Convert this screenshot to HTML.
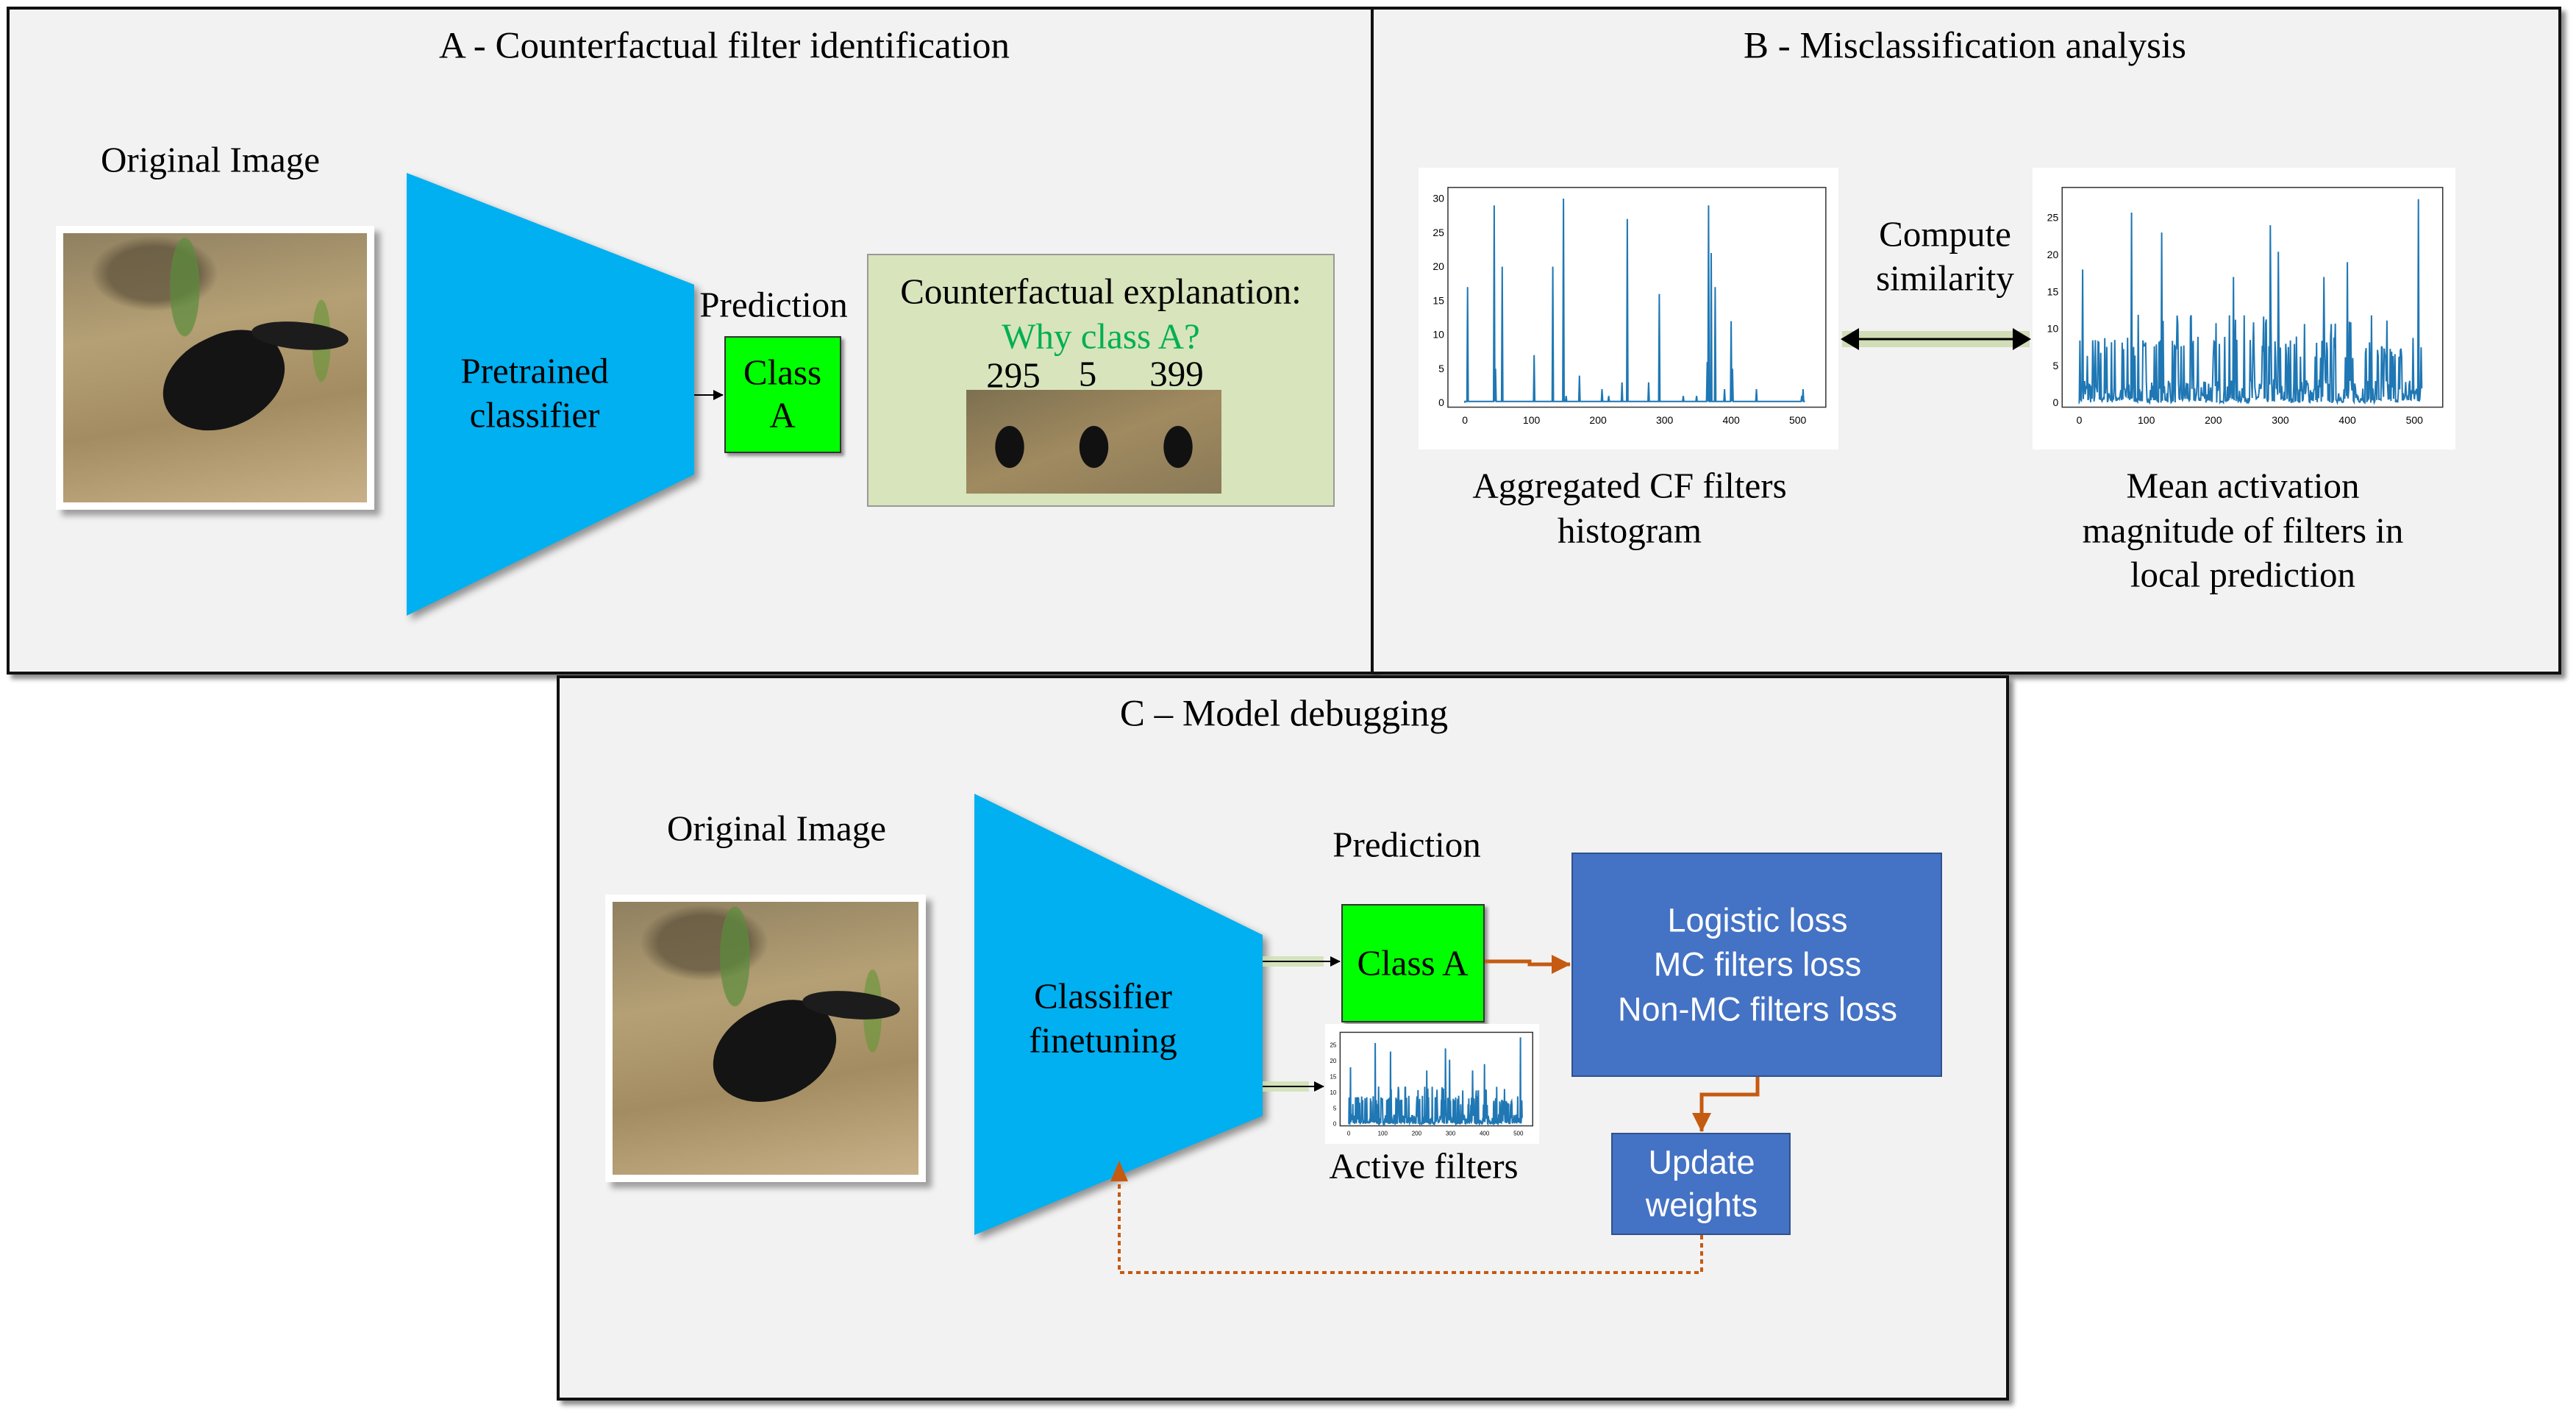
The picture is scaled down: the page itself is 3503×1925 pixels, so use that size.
<!DOCTYPE html>
<html><head><meta charset="utf-8">
<style>
body{margin:0;width:3503px;height:1925px;background:#fff;position:relative;overflow:hidden;font-family:"Liberation Serif",serif;}
.panel{position:absolute;background:#f2f2f2;border:4px solid #111;box-shadow:6px 6px 6px rgba(0,0,0,.45);box-sizing:border-box;}
.t{position:absolute;white-space:nowrap;transform:translate(-50%,-50%);font-size:49px;color:#000;line-height:1;}
.bird{position:absolute;background:#fff;box-shadow:8px 8px 8px rgba(0,0,0,.35);padding:10px;box-sizing:border-box;}
.bird div{width:100%;height:100%;position:relative;overflow:hidden;background:
radial-gradient(ellipse 8% 30% at 40% 20%,rgba(90,140,60,.7) 60%,transparent 62%),
radial-gradient(ellipse 5% 25% at 85% 40%,rgba(110,150,60,.7) 60%,transparent 62%),
radial-gradient(ellipse 30% 20% at 30% 15%,rgba(80,70,50,.6) 50%,transparent 70%),
linear-gradient(170deg,#8f8060,#b5a075 35%,#a48c62 65%,#c8b088);}
.bird div:before{content:"";position:absolute;left:32%;top:38%;width:42%;height:34%;background:#141414;border-radius:50% 45% 50% 50%;transform:rotate(-25deg);}
.bird div:after{content:"";position:absolute;left:62%;top:33%;width:32%;height:10%;background:#1c1c1c;border-radius:50%;transform:rotate(5deg);}
svg{position:absolute;left:0;top:0}
</style></head><body>
<div class="panel" style="left:9px;top:9px;width:1859px;height:908px"></div>
<div class="panel" style="left:1864px;top:9px;width:1619px;height:908px"></div>
<div class="panel" style="left:757px;top:918px;width:1975px;height:986px"></div>

<div class="bird" style="left:76px;top:307px;width:433px;height:386px"><div></div></div>
<div style="position:absolute;left:985px;top:457px;width:159px;height:159px;background:#00ff00;border:2px solid #333;box-sizing:border-box;box-shadow:4px 4px 4px rgba(0,0,0,.4)"></div>
<div style="position:absolute;left:1179px;top:345px;width:636px;height:344px;background:#d8e4bc;border:2px solid #999;box-sizing:border-box"></div>
<div style="position:absolute;left:1314px;top:530px;width:347px;height:141px;background:radial-gradient(ellipse 7% 25% at 17% 55%,#111 80%,transparent 82%),radial-gradient(ellipse 7% 25% at 50% 55%,#111 80%,transparent 82%),radial-gradient(ellipse 7% 25% at 83% 55%,#111 80%,transparent 82%),linear-gradient(160deg,#7d7050,#a08a60 50%,#8a7a58)"></div>
<div class="bird" style="left:823px;top:1216px;width:436px;height:391px"><div></div></div>
<div style="position:absolute;left:1824px;top:1229px;width:195px;height:161px;background:#00ff00;border:2px solid #333;box-sizing:border-box;box-shadow:4px 4px 4px rgba(0,0,0,.4)"></div>
<div style="position:absolute;left:2137px;top:1159px;width:504px;height:305px;background:#4472c4;border:2px solid #2f528f;box-sizing:border-box"></div>
<div style="position:absolute;left:2191px;top:1540px;width:244px;height:139px;background:#4472c4;border:2px solid #2f528f;box-sizing:border-box"></div>

<svg width="3503" height="1925">
<defs>
<marker id="ab" markerWidth="14" markerHeight="14" refX="13" refY="7" orient="auto" markerUnits="userSpaceOnUse" viewBox="0 0 14 14"><path d="M0,0L14,7L0,14z" fill="#000"/></marker>
<marker id="ao" markerWidth="26" markerHeight="26" refX="25" refY="13" orient="auto" markerUnits="userSpaceOnUse" viewBox="0 0 26 26"><path d="M0,0L26,13L0,26z" fill="#c55a11"/></marker>
</defs>
<polygon points="553,235 944,387 944,645 553,837" fill="#00b0f0" style="filter:drop-shadow(6px 6px 5px rgba(0,0,0,.4))"/>
<line x1="944" y1="537" x2="983" y2="537" stroke="#000" stroke-width="2" marker-end="url(#ab)"/>
<line x1="2505" y1="461" x2="2760" y2="461" stroke="#c8d9a8" stroke-width="22" opacity=".8"/>
<line x1="2525" y1="461" x2="2740" y2="461" stroke="#000" stroke-width="3"/>
<path d="M2503,461L2528,446L2528,476z M2762,461L2737,446L2737,476z" fill="#000"/>
<polygon points="1325,1079 1717,1271 1717,1517 1325,1679" fill="#00b0f0" style="filter:drop-shadow(6px 6px 5px rgba(0,0,0,.4))"/>
<line x1="1717" y1="1307" x2="1800" y2="1307" stroke="#cfe0b0" stroke-width="14" opacity=".8"/>
<line x1="1717" y1="1307" x2="1822" y2="1307" stroke="#000" stroke-width="2" marker-end="url(#ab)"/>
<line x1="1717" y1="1477" x2="1780" y2="1477" stroke="#cfe0b0" stroke-width="14" opacity=".8"/>
<line x1="1717" y1="1477" x2="1800" y2="1477" stroke="#000" stroke-width="2" marker-end="url(#ab)"/>
<polyline points="2019,1307 2080,1307 2080,1311 2135,1311" fill="none" stroke="#c55a11" stroke-width="5" marker-end="url(#ao)"/>
<polyline points="2390,1464 2390,1488 2314,1488 2314,1538" fill="none" stroke="#c55a11" stroke-width="5" marker-end="url(#ao)"/>
<polyline points="2314,1679 2314,1730 1522,1730 1522,1600" fill="none" stroke="#c55a11" stroke-width="4" stroke-dasharray="6,5"/>
<path d="M1522,1578L1510,1606L1534,1606z" fill="#c55a11"/>
<g id="charts"></g>
</svg>

<div class="t" style="left:985px;top:63px;font-size:51px">A - Counterfactual filter identification</div>
<div class="t" style="left:2672px;top:63px;font-size:51px">B - Misclassification analysis</div>
<div class="t" style="left:1746px;top:971px;font-size:51px">C – Model debugging</div>
<div class="t" style="left:286px;top:217px">Original Image</div>
<div class="t" style="left:727px;top:504px">Pretrained</div>
<div class="t" style="left:727px;top:564px">classifier</div>
<div class="t" style="left:1052px;top:414px">Prediction</div>
<div class="t" style="left:1064px;top:506px">Class</div>
<div class="t" style="left:1064px;top:564px">A</div>
<div class="t" style="left:1497px;top:396px">Counterfactual explanation:</div>
<div class="t" style="left:1497px;top:457px;color:#00b050">Why class A?</div>
<div class="t" style="left:1378px;top:510px">295</div>
<div class="t" style="left:1479px;top:508px">5</div>
<div class="t" style="left:1600px;top:508px">399</div>
<div class="t" style="left:2645px;top:318px">Compute</div>
<div class="t" style="left:2645px;top:378px">similarity</div>
<div class="t" style="left:2216px;top:660px">Aggregated CF filters</div>
<div class="t" style="left:2216px;top:721px">histogram</div>
<div class="t" style="left:3050px;top:660px">Mean activation</div>
<div class="t" style="left:3050px;top:721px">magnitude of filters in</div>
<div class="t" style="left:3050px;top:781px">local prediction</div>
<div class="t" style="left:1056px;top:1126px">Original Image</div>
<div class="t" style="left:1500px;top:1354px">Classifier</div>
<div class="t" style="left:1500px;top:1414px">finetuning</div>
<div class="t" style="left:1913px;top:1148px">Prediction</div>
<div class="t" style="left:1921px;top:1309px">Class A</div>
<div class="t" style="left:1936px;top:1585px">Active filters</div>
<div class="t" style="left:2390px;top:1251px;color:#fff;font-family:'Liberation Sans',sans-serif;font-size:45px">Logistic loss</div>
<div class="t" style="left:2390px;top:1311px;color:#fff;font-family:'Liberation Sans',sans-serif;font-size:45px">MC filters loss</div>
<div class="t" style="left:2390px;top:1372px;color:#fff;font-family:'Liberation Sans',sans-serif;font-size:45px">Non-MC filters loss</div>
<div class="t" style="left:2314px;top:1580px;color:#fff;font-family:'Liberation Sans',sans-serif;font-size:45px">Update</div>
<div class="t" style="left:2314px;top:1638px;color:#fff;font-family:'Liberation Sans',sans-serif;font-size:45px">weights</div>
<script>
(function(){
var g=document.getElementById('charts');var ns='http://www.w3.org/2000/svg';
function el(t,a){var e=document.createElementNS(ns,t);for(var k in a)e.setAttribute(k,a[k]);g.appendChild(e);return e;}
function chart(x,y,w,h,vals,ymax,ticks,fs){
 el('rect',{x:x,y:y,width:w,height:h,fill:'#fff'});
 var px=x+w*0.07,py=y+h*0.07,pw=w*0.9,ph=h*0.78;
 el('rect',{x:px,y:py,width:pw,height:ph,fill:'none',stroke:'#333','stroke-width':1.5});
 var x0=px+pw*0.045,xs=pw*0.9/511;
 var d='M'+x0+','+(py+ph*0.98);
 for(var i=0;i<vals.length;i++){var X=x0+i*xs,Y=py+ph*0.98-vals[i]/ymax*ph*0.96;d+='L'+X.toFixed(1)+','+Y.toFixed(1);}
 el('path',{d:d,fill:'none',stroke:'#1f77b4','stroke-width':2});
 for(var t=0;t<=500;t+=100){var X=x0+t*xs;var tx=el('text',{x:X,y:py+ph+fs*1.6,'font-size':fs,'text-anchor':'middle','font-family':'Liberation Sans'});tx.textContent=t;}
 ticks.forEach(function(v){var Y=py+ph*0.98-v/ymax*ph*0.96;var tx=el('text',{x:px-5,y:Y+fs/3,'font-size':fs,'text-anchor':'end','font-family':'Liberation Sans'});tx.textContent=v;});
}
var s=7;function r(){s=(s*16807)%2147483647;return s/2147483647;}
var v1=[];for(var i=0;i<512;i++)v1.push(0.2);
[[2,17],[22,29],[23,5],[28,20],[52,7],[66,20],[74,30],[76,1],[86,4],[103,2],[108,1],[118,3],[122,27],[138,3],[146,16],[164,1],[174,1],[182,6],[183,29],[185,22],[188,17],[195,2],[200,12],[201,5],[219,2],[253,1],[254,2]].forEach(function(p){v1[p[0]*2]=p[1];});
var v2=[];for(var i=0;i<512;i++){var q=r();v2.push(q<0.45?q*1.5:q<0.8?(q-0.4)*8:q<0.95?(q-0.5)*20:(q-0.6)*30);}
v2[78]=25.7;v2[285]=24;v2[506]=27.5;v2[123]=23;v2[297]=20.4;v2[5]=18;v2[400]=19;v2[230]=17;v2[365]=17;
chart(1929,228,571,383,v1,31,[0,5,10,15,20,25,30],14);
chart(2764,228,575,383,v2,28.5,[0,5,10,15,20,25],14);
chart(1802,1392,291,163,v2,28.5,[0,5,10,15,20,25],8);
})();
</script>
</body></html>
